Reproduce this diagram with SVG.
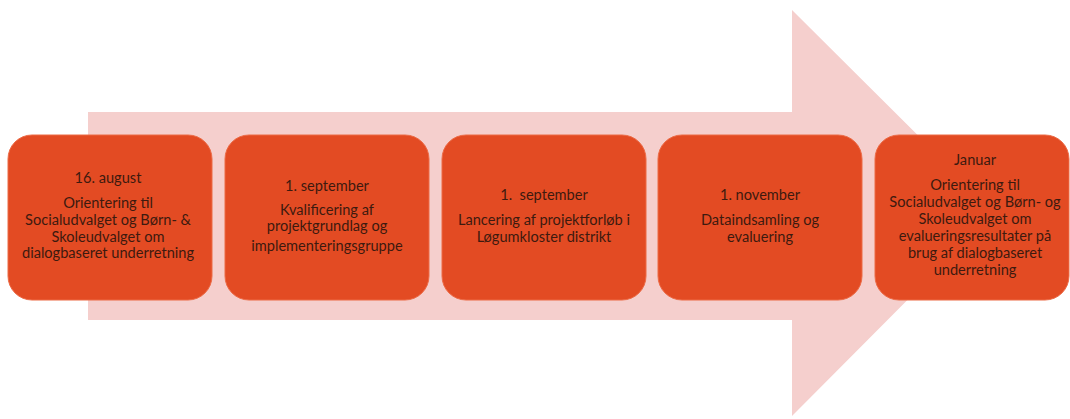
<svg xmlns="http://www.w3.org/2000/svg" width="1070" height="419" viewBox="0 0 1070 419">
<style>
.box{fill:#E34B23;stroke:#EC6A45;stroke-width:1}
.t{font-family:Lato,"Open Sans",sans-serif;font-size:14.6px;fill:#3d1a0f;text-anchor:middle}
</style>
<rect width="1070" height="419" fill="#ffffff"/>
<g id="arrow">
<polygon points="88,112 792,112 792,10 995,212 792,416 792,320 88,320" fill="#F5CFCD"/>
</g>
<g id="connectors"></g>
<g id="node1">
<rect class="box" x="8" y="135" width="204" height="165" rx="24"/>
<text class="t" x="108" y="183">16. august</text>
<text class="t" x="108" y="208">Orientering til</text>
<text class="t" x="108" y="225">Socialudvalget og Børn- &amp;</text>
<text class="t" x="108" y="242">Skoleudvalget om</text>
<text class="t" x="108" y="258">dialogbaseret underretning</text>
</g>
<g id="node2">
<rect class="box" x="225" y="135" width="204" height="165" rx="24"/>
<text class="t" x="327" y="191">1. september</text>
<text class="t" x="327" y="215">Kvalificering af</text>
<text class="t" x="327" y="231">projektgrundlag og</text>
<text class="t" x="327" y="251">implementeringsgruppe</text>
</g>
<g id="node3">
<rect class="box" x="442" y="135" width="204" height="165" rx="24"/>
<text class="t" x="544" y="200" xml:space="preserve">1.  september</text>
<text class="t" x="544" y="225">Lancering af projektforløb i</text>
<text class="t" x="544" y="242">Løgumkloster distrikt</text>
</g>
<g id="node4">
<rect class="box" x="658" y="135" width="204" height="165" rx="24"/>
<text class="t" x="760" y="200">1. november</text>
<text class="t" x="760" y="225">Dataindsamling og</text>
<text class="t" x="760" y="242">evaluering</text>
</g>
<g id="node5">
<rect class="box" x="875" y="135" width="194" height="165" rx="24"/>
<text class="t" x="975" y="165">Januar</text>
<text class="t" x="975" y="190">Orientering til</text>
<text class="t" x="975" y="207">Socialudvalget og Børn- og</text>
<text class="t" x="975" y="224">Skoleudvalget om</text>
<text class="t" x="975" y="241">evalueringsresultater på</text>
<text class="t" x="975" y="258">brug af dialogbaseret</text>
<text class="t" x="975" y="275">underretning</text>
</g>
</svg>
